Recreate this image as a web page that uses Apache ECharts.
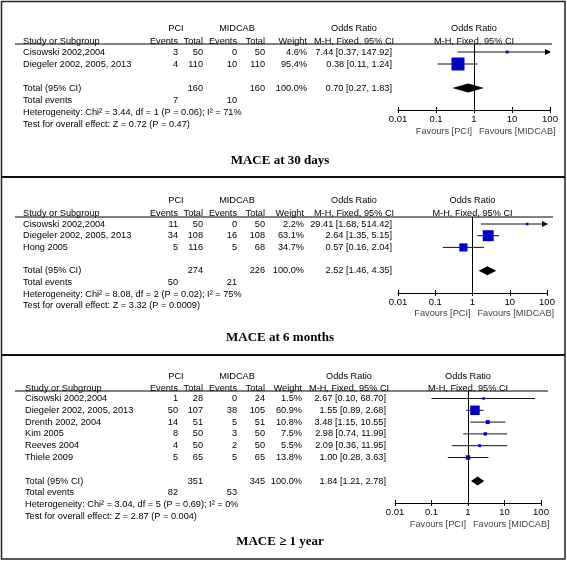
<!DOCTYPE html>
<html><head><meta charset="utf-8">
<script src="https://cdn.jsdelivr.net/npm/echarts@6/dist/echarts.min.js"></script>
<style>html,body{margin:0;padding:0;background:#fff}#c{width:567px;height:562px}</style>
</head><body><div id="c"></div>
<script>
// ---------------- DATA ----------------
const tickLabels = ['0.01', '0.1', '1', '10', '100'];

// Panel 1 : MACE at 30 days
const p1Title = 'MACE at 30 days';
const p1Studies = ['Cisowski 2002,2004', 'Diegeler 2002, 2005, 2013'];
const p1PciEvents = [3, 4];
const p1PciTotal = [50, 110];
const p1MidEvents = [0, 10];
const p1MidTotal = [50, 110];
const p1Weight = [4.6, 95.4];
const p1OR = [7.44, 0.38];
const p1Lo = [0.37, 0.11];
const p1Hi = [147.92, 1.24];
const p1TotalRow = [160, 160, 100.0, 0.70, 0.27, 1.83];   // pciTotal, midTotal, weight, OR, lo, hi
const p1TotalEvents = [7, 10];
const p1Het = 'Heterogeneity: Chi² = 3.44, df = 1 (P = 0.06); I² = 71%';
const p1Test = 'Test for overall effect: Z = 0.72 (P = 0.47)';

// Panel 2 : MACE at 6 months
const p2Title = 'MACE at 6 months';
const p2Studies = ['Cisowski 2002,2004', 'Diegeler 2002, 2005, 2013', 'Hong 2005'];
const p2PciEvents = [11, 34, 5];
const p2PciTotal = [50, 108, 116];
const p2MidEvents = [0, 16, 5];
const p2MidTotal = [50, 108, 68];
const p2Weight = [2.2, 63.1, 34.7];
const p2OR = [29.41, 2.64, 0.57];
const p2Lo = [1.68, 1.35, 0.16];
const p2Hi = [514.42, 5.15, 2.04];
const p2TotalRow = [274, 226, 100.0, 2.52, 1.46, 4.35];
const p2TotalEvents = [50, 21];
const p2Het = 'Heterogeneity: Chi² = 8.08, df = 2 (P = 0.02); I² = 75%';
const p2Test = 'Test for overall effect: Z = 3.32 (P = 0.0009)';

// Panel 3 : MACE >= 1 year
const p3Title = 'MACE ≥ 1 year';
const p3Studies = ['Cisowski 2002,2004', 'Diegeler 2002, 2005, 2013', 'Drenth 2002, 2004', 'Kim 2005', 'Reeves 2004', 'Thiele 2009'];
const p3PciEvents = [1, 50, 14, 8, 4, 5];
const p3PciTotal = [28, 107, 51, 50, 50, 65];
const p3MidEvents = [0, 38, 5, 3, 2, 5];
const p3MidTotal = [24, 105, 51, 50, 50, 65];
const p3Weight = [1.5, 60.9, 10.8, 7.5, 5.5, 13.8];
const p3OR = [2.67, 1.55, 3.48, 2.98, 2.09, 1.00];
const p3Lo = [0.10, 0.89, 1.15, 0.74, 0.36, 0.28];
const p3Hi = [68.70, 2.68, 10.55, 11.99, 11.95, 3.63];
const p3TotalRow = [351, 345, 100.0, 1.84, 1.21, 2.78];
const p3TotalEvents = [82, 53];
const p3Het = 'Heterogeneity: Chi² = 3.04, df = 5 (P = 0.69); I² = 0%';
const p3Test = 'Test for overall effect: Z = 2.87 (P = 0.004)';

// ---------------- LAYOUT ----------------
const layouts = [
  {hdr1Y: 28, hdr2Y: 41, underY: 44, row0: 52, dy: 12, axisY: 110, favY: 131, titleY: 161,
   axisL: 398, axisR: 550, xStudy: 23, xEv1: 178, xTot1: 203, xEv2: 237, xTot2: 265, xW: 307, xOR: 392,
   hdrPci: 176, hdrMid: 237, orHdr: 354, ulL: 15, ulR: 552, sqK: 1.33},
  {hdr1Y: 200, hdr2Y: 213, underY: 217, row0: 224, dy: 11.7, axisY: 293, favY: 313, titleY: 338,
   axisL: 398, axisR: 547, xStudy: 23, xEv1: 178, xTot1: 203, xEv2: 237, xTot2: 265, xW: 304, xOR: 392,
   hdrPci: 176, hdrMid: 237, orHdr: 354, ulL: 15, ulR: 553, sqK: 1.38},
  {hdr1Y: 376, hdr2Y: 388, underY: 391, row0: 398.5, dy: 11.8, axisY: 503, favY: 524, titleY: 542,
   axisL: 395, axisR: 541, xStudy: 25, xEv1: 178, xTot1: 203, xEv2: 237, xTot2: 265, xW: 302, xOR: 386,
   hdrPci: 176, hdrMid: 237, orHdr: 349, ulL: 15, ulR: 548, sqK: 1.22}
];

const panels = [
  {studies: p1Studies, pe: p1PciEvents, pt: p1PciTotal, me: p1MidEvents, mt: p1MidTotal, w: p1Weight,
   or: p1OR, lo: p1Lo, hi: p1Hi, tot: p1TotalRow, ev: p1TotalEvents, het: p1Het, test: p1Test, title: p1Title},
  {studies: p2Studies, pe: p2PciEvents, pt: p2PciTotal, me: p2MidEvents, mt: p2MidTotal, w: p2Weight,
   or: p2OR, lo: p2Lo, hi: p2Hi, tot: p2TotalRow, ev: p2TotalEvents, het: p2Het, test: p2Test, title: p2Title},
  {studies: p3Studies, pe: p3PciEvents, pt: p3PciTotal, me: p3MidEvents, mt: p3MidTotal, w: p3Weight,
   or: p3OR, lo: p3Lo, hi: p3Hi, tot: p3TotalRow, ev: p3TotalEvents, het: p3Het, test: p3Test, title: p3Title}
];

const FONT = '"Liberation Sans", Arial, sans-serif';
const FS = 9.2;
const SQ_COLOR = '#0000c8';

function txt(x, y, s, align, extra) {
  const st = Object.assign({text: s, fill: '#000', fontSize: FS, fontFamily: FONT,
    align: align, verticalAlign: 'middle', textAlign: align, textVerticalAlign: 'middle'}, extra || {});
  return {type: 'text', x: x, y: y, silent: true, style: st};
}
function ci(o, l, h) { return o.toFixed(2) + ' [' + l.toFixed(2) + ', ' + h.toFixed(2) + ']'; }

const grids = [], xAxes = [], yAxes = [], series = [], graphics = [];

panels.forEach(function (P, p) {
  const L = layouts[p];
  const n = P.studies.length;
  grids.push({left: L.axisL, width: L.axisR - L.axisL, top: L.underY, height: L.axisY - L.underY, containLabel: false});
  xAxes.push({gridIndex: p, type: 'log', logBase: 10, min: 0.01, max: 100, position: 'bottom', offset: 0,
    axisLine: {show: true, onZero: false, lineStyle: {color: '#000', width: 1}},
    axisTick: {show: true, length: 3, lineStyle: {color: '#000'}},
    splitLine: {show: false},
    axisLabel: {show: true, margin: 4, color: '#000', fontSize: 9.5, fontFamily: FONT,
      formatter: function (v) { return tickLabels[Math.round(Math.log10(v)) + 2]; }}});
  xAxes.push({gridIndex: p, type: 'log', logBase: 10, min: 0.01, max: 100, position: 'bottom', offset: 0,
    axisLine: {show: false, onZero: false}, axisTick: {show: true, inside: true, length: 3, lineStyle: {color: '#000'}},
    splitLine: {show: false}, axisLabel: {show: false}});
  yAxes.push({gridIndex: p, type: 'value', inverse: true, show: false,
    min: (L.underY - L.row0) / L.dy, max: (L.axisY - L.row0) / L.dy});

  // studies
  series.push({
    type: 'custom', xAxisIndex: 2 * p, yAxisIndex: p, clip: false, silent: true,
    data: P.studies.map(function (s, i) { return [P.or[i], i]; }),
    encode: {x: 0, y: 1},
    renderItem: function (params, api) {
      const i = params.dataIndex;
      const y = api.coord([1, i])[1];
      const cx = api.coord([P.or[i], i])[0];
      const xl = api.coord([Math.max(P.lo[i], 0.01), i])[0];
      const xr = api.coord([Math.min(P.hi[i], 100), i])[0];
      const s = Math.max(2.5, L.sqK * Math.sqrt(P.w[i]));
      const ch = [
        txt(L.xStudy, y, P.studies[i], 'left'),
        txt(L.xEv1, y, String(P.pe[i]), 'right'),
        txt(L.xTot1, y, String(P.pt[i]), 'right'),
        txt(L.xEv2, y, String(P.me[i]), 'right'),
        txt(L.xTot2, y, String(P.mt[i]), 'right'),
        txt(L.xW, y, P.w[i].toFixed(1) + '%', 'right'),
        txt(L.xOR, y, ci(P.or[i], P.lo[i], P.hi[i]), 'right'),
        {type: 'line', shape: {x1: xl, y1: y, x2: xr, y2: y}, style: {stroke: '#111', lineWidth: 1}}
      ];
      if (P.hi[i] > 100) {
        ch.push({type: 'polygon', shape: {points: [[xr + 1, y], [xr - 5, y - 3], [xr - 5, y + 3]]}, style: {fill: '#000'}});
      }
      ch.push({type: 'rect', shape: {x: cx - s / 2, y: y - s / 2, width: s, height: s}, style: {fill: SQ_COLOR}});
      return {type: 'group', children: ch};
    },
    markLine: {silent: true, symbol: 'none', label: {show: false},
      lineStyle: {color: '#000', width: 1, type: 'solid'}, data: [{xAxis: 1}], animation: false}
  });

  // total
  series.push({
    type: 'custom', xAxisIndex: 2 * p, yAxisIndex: p, clip: false, silent: true,
    data: [[P.tot[3], n + 1]],
    encode: {x: 0, y: 1},
    renderItem: function (params, api) {
      const r = n + 1;
      const y = api.coord([1, r])[1];
      const cx = api.coord([P.tot[3], r])[0];
      const xl = api.coord([P.tot[4], r])[0];
      const xr = api.coord([P.tot[5], r])[0];
      const y2 = api.coord([1, r + 1])[1];
      const y3 = api.coord([1, r + 2])[1];
      const y4 = api.coord([1, r + 3])[1];
      return {type: 'group', children: [
        txt(L.xStudy, y, 'Total (95% CI)', 'left'),
        txt(L.xTot1, y, String(P.tot[0]), 'right'),
        txt(L.xTot2, y, String(P.tot[1]), 'right'),
        txt(L.xW, y, P.tot[2].toFixed(1) + '%', 'right'),
        txt(L.xOR, y, ci(P.tot[3], P.tot[4], P.tot[5]), 'right'),
        {type: 'polygon', shape: {points: [[xl, y], [cx, y - 4.5], [xr, y], [cx, y + 4.5]]}, style: {fill: '#000'}},
        txt(L.xStudy, y2, 'Total events', 'left'),
        txt(L.xEv1, y2, String(P.ev[0]), 'right'),
        txt(L.xEv2, y2, String(P.ev[1]), 'right'),
        txt(L.xStudy, y3, P.het, 'left'),
        txt(L.xStudy, y4, P.test, 'left')
      ]};
    }
  });

  // headers
  const fc = (L.axisL + L.axisR) / 2;
  graphics.push(
    txt(L.hdrPci, L.hdr1Y, 'PCI', 'center'),
    txt(L.hdrMid, L.hdr1Y, 'MIDCAB', 'center'),
    txt(L.orHdr, L.hdr1Y, 'Odds Ratio', 'center'),
    txt(fc, L.hdr1Y, 'Odds Ratio', 'center'),
    txt(L.xStudy, L.hdr2Y, 'Study or Subgroup', 'left'),
    txt(L.xEv1, L.hdr2Y, 'Events', 'right'),
    txt(L.xTot1, L.hdr2Y, 'Total', 'right'),
    txt(L.xEv2, L.hdr2Y, 'Events', 'right'),
    txt(L.xTot2, L.hdr2Y, 'Total', 'right'),
    txt(L.xW, L.hdr2Y, 'Weight', 'right'),
    txt(L.orHdr, L.hdr2Y, 'M-H, Fixed, 95% CI', 'center'),
    txt(fc, L.hdr2Y, 'M-H, Fixed, 95% CI', 'center'),
    {type: 'line', silent: true, shape: {x1: L.ulL, y1: L.underY, x2: L.ulR, y2: L.underY}, style: {stroke: '#000', lineWidth: 1}},
    txt(fc - 2, L.favY, 'Favours [PCI]', 'right', {fill: '#444'}),
    txt(fc + 5, L.favY, 'Favours [MIDCAB]', 'left', {fill: '#444'}),
    txt(280, L.titleY, P.title, 'center', {fontSize: 13, fontWeight: 'bold', fontFamily: '"Liberation Serif", "Times New Roman", serif'})
  );
});

// frame
graphics.push(
  {type: 'rect', silent: true, shape: {x: 1.5, y: 1.5, width: 563.5, height: 557.5}, style: {fill: 'none', stroke: '#222', lineWidth: 1.5}},
  {type: 'line', silent: true, shape: {x1: 1, y1: 177, x2: 565, y2: 177}, style: {stroke: '#111', lineWidth: 2}},
  {type: 'line', silent: true, shape: {x1: 1, y1: 355, x2: 565, y2: 355}, style: {stroke: '#111', lineWidth: 2}}
);

const chart = echarts.init(document.getElementById('c'));
chart.setOption({
  animation: false,
  backgroundColor: '#fff',
  grid: grids, xAxis: xAxes, yAxis: yAxes, series: series,
  graphic: {elements: graphics}
});
</script>
</body></html>
